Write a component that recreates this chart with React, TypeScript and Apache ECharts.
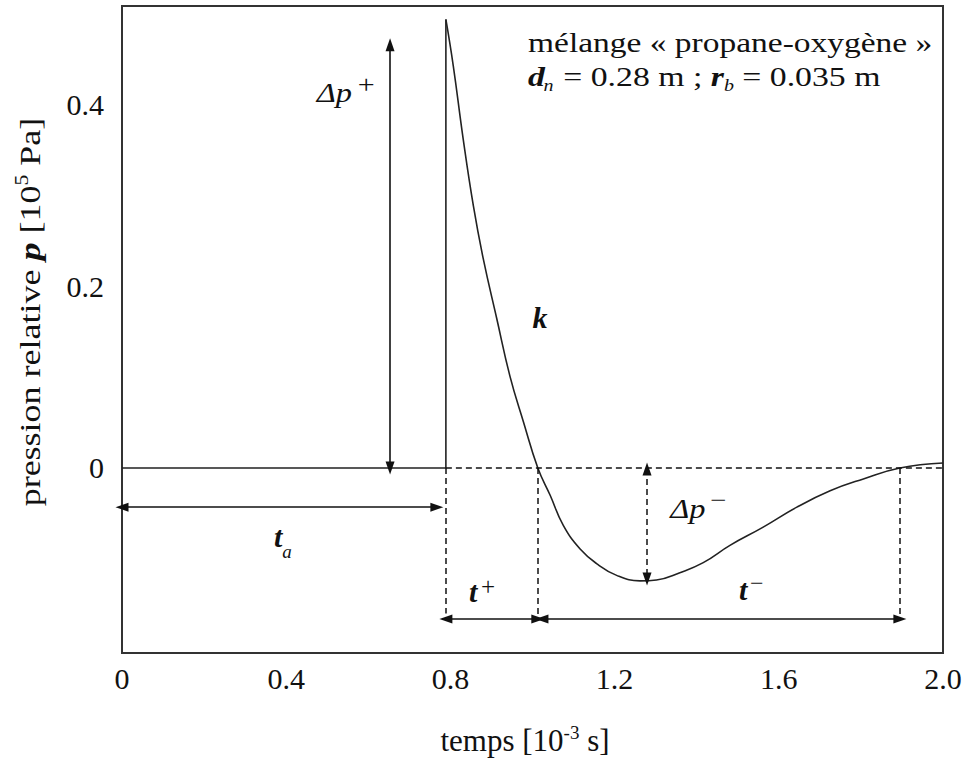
import React, { useEffect, useRef } from "react";
import * as echarts from "echarts";

// ---------- data ----------
const xTickValues = [0, 0.4, 0.8, 1.2, 1.6, 2.0];
const yTickValues = [0, 0.2, 0.4];

// time [10^-3 s] and relative pressure [10^5 Pa]
const timeMs = [
  0, 0.789, 0.789, 0.807, 0.831, 0.856, 0.88, 0.913, 0.945, 0.978, 1.013,
  1.043, 1.075, 1.116, 1.156, 1.205, 1.262, 1.302, 1.359, 1.416, 1.481,
  1.562, 1.644, 1.725, 1.806, 1.895, 2.0,
];
const pressure = [
  0, 0, 0.493, 0.442, 0.362, 0.288, 0.23, 0.164, 0.101, 0.0505, 0,
  -0.03, -0.063, -0.089, -0.105, -0.118, -0.124, -0.123, -0.115, -0.104, -0.085,
  -0.065, -0.043, -0.025, -0.012, 0, 0.0055,
];

const tArrival = 0.789; // t_a
const tZero = 1.013; // end of positive phase
const tNegEnd = 1.895; // end of negative phase
const tMin = 1.279;
const pMin = -0.124;
const pPlusTop = 0.465;
const tPlusArrow = 0.653;

const FONT = "'Liberation Serif', 'Times New Roman', serif";
const INK = "#111";

type Seg = { t: string; size: number; italic?: boolean; bold?: boolean; dy?: number; dx?: number };

let measureCtx: CanvasRenderingContext2D | null = null;
function fontOf(s: Seg) {
  return `${s.italic ? "italic " : ""}${s.bold ? "bold " : ""}${s.size}px ${FONT}`;
}
function measure(s: Seg) {
  if (!measureCtx) measureCtx = document.createElement("canvas").getContext("2d");
  measureCtx!.font = fontOf(s);
  return measureCtx!.measureText(s.t).width;
}

function run(
  x: number,
  y: number,
  segs: Seg[],
  align: "left" | "center",
  scaleX = 1,
  rotation = 0
) {
  const widths = segs.map(measure);
  const total = widths.reduce((a, b) => a + b, 0);
  let cx = align === "center" ? -total / 2 : 0;
  const children: any[] = [];
  segs.forEach((s, i) => {
    children.push({
      type: "text",
      x: cx + (s.dx || 0),
      y: s.dy || 0,
      silent: true,
      style: {
        text: s.t,
        fontFamily: FONT,
        fontSize: s.size,
        fontStyle: s.italic ? "italic" : "normal",
        fontWeight: s.bold ? "bold" : "normal",
        fill: INK,
        align: "left",
        textAlign: "left",
        verticalAlign: "middle",
        textVerticalAlign: "middle",
      },
    });
    cx += widths[i];
  });
  return { type: "group", x, y, scaleX, rotation, silent: true, children };
}

export default function App() {
  const ref = useRef<HTMLDivElement>(null);

  useEffect(() => {
    document.body.style.margin = "0";
    const chart = echarts.init(ref.current!, null, { renderer: "svg" });

    const pts = timeMs.map((t, i) => [t, pressure[i]]);
    const solid = { color: INK, width: 1.6, type: "solid" as const };
    const dashed = { color: INK, width: 1.5, type: [6, 4] as any };
    const arrow = (a: number[], b: number[], style: any) => [
      { coord: a, symbol: "triangle", symbolSize: [9, 13], lineStyle: style },
      { coord: b, symbol: "triangle", symbolSize: [9, 13] },
    ];
    const guide = (a: number[], b: number[]) => [
      { coord: a, symbol: "none", lineStyle: dashed },
      { coord: b, symbol: "none" },
    ];

    chart.setOption({
      animation: false,
      backgroundColor: "#fff",
      textStyle: { fontFamily: FONT },
      grid: {
        left: 122,
        right: 21,
        top: 6,
        bottom: 105,
        show: true,
        borderColor: "#333",
        borderWidth: 2,
        containLabel: false,
        outerBoundsMode: "none",
      },
      xAxis: {
        type: "value",
        min: 0,
        max: 2.0,
        interval: 0.4,
        axisLine: { show: false },
        axisTick: { show: false },
        splitLine: { show: false },
        axisLabel: {
          margin: 10,
          fontSize: 30,
          fontFamily: FONT,
          color: INK,
          customValues: xTickValues,
          formatter: (v: number) => (v === 0 ? "0" : v.toFixed(1)),
        },
      },
      yAxis: {
        type: "value",
        min: -0.2033,
        max: 0.5077,
        axisLine: { show: false },
        axisTick: { show: false },
        splitLine: { show: false },
        axisLabel: {
          margin: 18,
          fontSize: 30,
          fontFamily: FONT,
          color: INK,
          customValues: yTickValues,
          formatter: (v: number) => (v === 0 ? "0" : String(v)),
        },
      },
      series: [
        {
          type: "line",
          data: pts.slice(0, 3),
          showSymbol: false,
          lineStyle: { color: "#222", width: 1.6 },
          silent: true,
          markLine: {
            silent: true,
            label: { show: false },
            emphasis: { disabled: true },
            data: [
              arrow([tPlusArrow, 0], [tPlusArrow, pPlusTop], solid),
              arrow([0, -0.043], [0.767, -0.043], solid),
              arrow([tArrival, -0.166], [tZero, -0.166], solid),
              arrow([1.023, -0.166], [tNegEnd, -0.166], solid),
              arrow([tMin, -0.001], [tMin, pMin + 0.002], dashed),
              guide([tArrival, 0], [2.0, 0]),
              guide([tArrival, 0], [tArrival, -0.16]),
              guide([tZero, 0], [tZero, -0.166]),
              guide([tNegEnd, 0], [tNegEnd, -0.166]),
            ],
          },
        },
        {
          type: "line",
          data: pts.slice(2),
          showSymbol: false,
          smooth: 0.45,
          lineStyle: { color: "#222", width: 1.6 },
          silent: true,
          z: 3,
        },
      ],
    });

    const px = (t: number, p: number) =>
      chart.convertToPixel({ gridIndex: 0 }, [t, p]) as number[];

    const g: any[] = [];
    // Δp+
    {
      const [x, y] = px(0.545, 0.413);
      g.push(
        run(x, y, [
          { t: "Δp", size: 27, italic: true },
          { t: " ", size: 20 },
          { t: "+", size: 25, dy: -8 },
        ], "center", 1.2)
      );
    }
    // t_a
    {
      const [x, y] = px(0.392, -0.075);
      g.push(
        run(x, y, [
          { t: "t", size: 30, italic: true, bold: true },
          { t: "a", size: 19, italic: true, dy: 15, dx: 0 },
        ], "center")
      );
    }
    // t+
    {
      const [x, y] = px(0.877, -0.136);
      g.push(
        run(x, y, [
          { t: "t", size: 30, italic: true, bold: true },
          { t: " ", size: 14 },
          { t: "+", size: 25, dy: -5 },
        ], "center")
      );
    }
    // t-
    {
      const [x, y] = px(1.533, -0.133);
      g.push(
        run(x, y, [
          { t: "t", size: 30, italic: true, bold: true },
          { t: " ", size: 10 },
          { t: "−", size: 24, dy: -6 },
        ], "center")
      );
    }
    // Δp-
    {
      const [x, y] = px(1.404, -0.044);
      g.push(
        run(x, y, [
          { t: "Δp", size: 27, italic: true },
          { t: " ", size: 16 },
          { t: "−", size: 24, dy: -8 },
        ], "center", 1.2)
      );
    }
    // k
    {
      const [x, y] = px(1.018, 0.165);
      g.push(run(x, y, [{ t: "k", size: 30, italic: true, bold: true }], "center"));
    }
    // info text
    {
      const [x1, y1] = px(0.989, 0.467);
      g.push(
        run(x1, y1, [{ t: "mélange « propane-oxygène »", size: 27 }], "left", 1.24)
      );
      const [x2, y2] = px(0.989, 0.43);
      g.push(
        run(x2, y2, [
          { t: "d", size: 27, italic: true, bold: true },
          { t: "n", size: 16, italic: true, dy: 9, dx: -1 },
          { t: " = 0.28 m ; ", size: 27 },
          { t: "r", size: 27, italic: true, bold: true },
          { t: "b", size: 16, italic: true, dy: 9 },
          { t: " = 0.035 m", size: 27 },
        ], "left", 1.25)
      );
    }
    // axis titles
    g.push(
      run(525, 740, [
        { t: "temps [10", size: 31 },
        { t: "-3", size: 19, dy: -8 },
        { t: " s]", size: 31 },
      ], "center")
    );
    g.push(
      run(30, 312, [
        { t: "pression relative ", size: 30 },
        { t: "p", size: 30, italic: true, bold: true },
        { t: " [10", size: 30 },
        { t: "5", size: 18, dy: -8 },
        { t: " Pa]", size: 30 },
      ], "center", 1.2, Math.PI / 2)
    );

    chart.setOption({ graphic: { elements: g } });

    return () => chart.dispose();
  }, []);

  return <div ref={ref} style={{ width: 964, height: 758 }} />;
}
